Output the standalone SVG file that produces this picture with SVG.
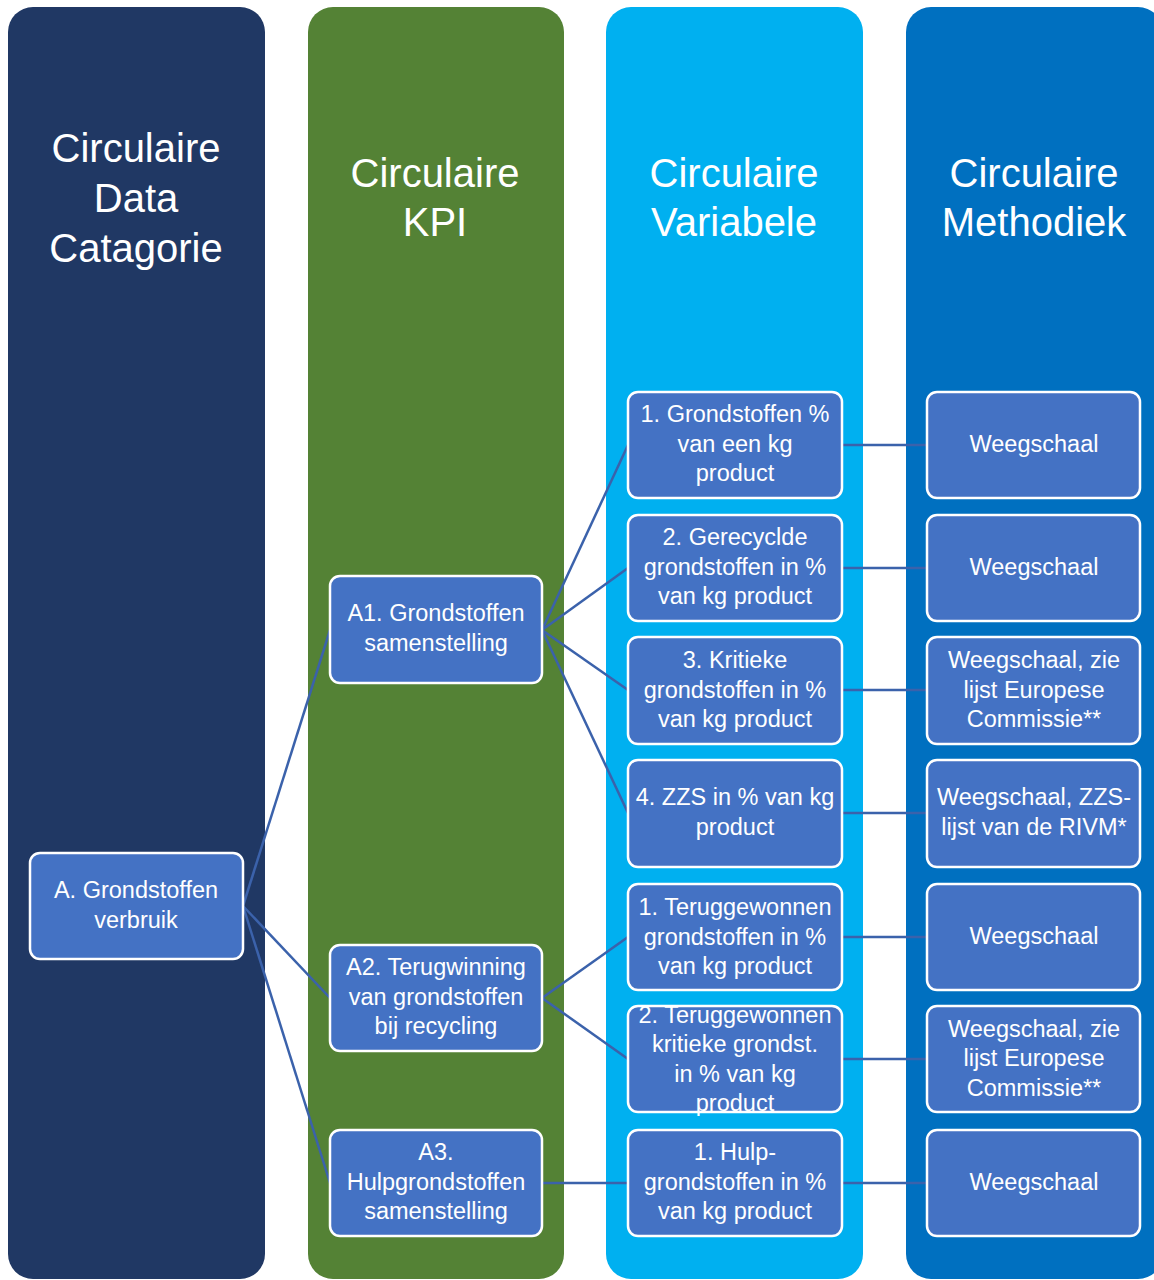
<svg xmlns="http://www.w3.org/2000/svg" width="1154" height="1280" viewBox="0 0 1154 1280">
<style>
.col{stroke:none}
.hd{font-family:"Liberation Sans",Arial,sans-serif;font-size:40px;fill:#fff;text-anchor:middle}
.nd rect{fill:#4472C4;stroke:#fff;stroke-width:2.5}
.nd text{font-family:"Liberation Sans",Arial,sans-serif;font-size:23.5px;fill:#fff;text-anchor:middle}
#connectors line{stroke:#3B62AB;stroke-width:2.5}
</style>
<rect width="1154" height="1280" fill="#fff"/>
<g id="columns">
<g id="col1"><rect class="col" x="8" y="7" width="257" height="1272" rx="25" fill="#203864"/>
<text class="hd" x="136" y="162">Circulaire</text><text class="hd" x="136" y="212">Data</text><text class="hd" x="136" y="262">Catagorie</text></g>
<g id="col2"><rect class="col" x="308" y="7" width="256" height="1272" rx="25" fill="#548235"/>
<text class="hd" x="435" y="187">Circulaire</text><text class="hd" x="435" y="236">KPI</text></g>
<g id="col3"><rect class="col" x="606" y="7" width="257" height="1272" rx="25" fill="#00B0F0"/>
<text class="hd" x="734" y="187">Circulaire</text><text class="hd" x="734" y="236">Variabele</text></g>
<g id="col4"><rect class="col" x="906" y="7" width="257" height="1272" rx="25" fill="#0070C0"/>
<text class="hd" x="1034" y="187">Circulaire</text><text class="hd" x="1034" y="236">Methodiek</text></g>
</g>
<g id="connectors">
<line x1="243" y1="906" x2="330" y2="630"/>
<line x1="243" y1="906" x2="330" y2="998"/>
<line x1="243" y1="906" x2="330" y2="1183"/>
<line x1="542" y1="630" x2="628" y2="445"/>
<line x1="542" y1="630" x2="628" y2="568"/>
<line x1="542" y1="630" x2="628" y2="690"/>
<line x1="542" y1="630" x2="628" y2="813"/>
<line x1="542" y1="998" x2="628" y2="937"/>
<line x1="542" y1="998" x2="628" y2="1059"/>
<line x1="542" y1="1183" x2="628" y2="1183"/>
<line x1="842" y1="445" x2="927" y2="445"/>
<line x1="842" y1="568" x2="927" y2="568"/>
<line x1="842" y1="690" x2="927" y2="690"/>
<line x1="842" y1="813" x2="927" y2="813"/>
<line x1="842" y1="937" x2="927" y2="937"/>
<line x1="842" y1="1059" x2="927" y2="1059"/>
<line x1="842" y1="1183" x2="927" y2="1183"/>
</g>
<g id="nodeA" class="nd"><rect x="30" y="853" width="213" height="106" rx="10"/>
<text x="136" y="898">A. Grondstoffen</text><text x="136" y="928">verbruik</text></g>
<g id="nodeA1" class="nd"><rect x="330" y="576" width="212" height="107" rx="10"/>
<text x="436" y="621">A1. Grondstoffen</text><text x="436" y="651">samenstelling</text></g>
<g id="nodeA2" class="nd"><rect x="330" y="945" width="212" height="106" rx="10"/>
<text x="436" y="975">A2. Terugwinning</text><text x="436" y="1005">van grondstoffen</text><text x="436" y="1034">bij recycling</text></g>
<g id="nodeA3" class="nd"><rect x="330" y="1130" width="212" height="106" rx="10"/>
<text x="436" y="1160">A3.</text><text x="436" y="1190">Hulpgrondstoffen</text><text x="436" y="1219">samenstelling</text></g>
<g id="nodeV1" class="nd"><rect x="628" y="392" width="214" height="106" rx="10"/>
<text x="735" y="422">1. Grondstoffen %</text><text x="735" y="452">van een kg</text><text x="735" y="481">product</text></g>
<g id="nodeV2" class="nd"><rect x="628" y="515" width="214" height="106" rx="10"/>
<text x="735" y="545">2. Gerecyclde</text><text x="735" y="575">grondstoffen in %</text><text x="735" y="604">van kg product</text></g>
<g id="nodeV3" class="nd"><rect x="628" y="637" width="214" height="107" rx="10"/>
<text x="735" y="668">3. Kritieke</text><text x="735" y="698">grondstoffen in %</text><text x="735" y="727">van kg product</text></g>
<g id="nodeV4" class="nd"><rect x="628" y="760" width="214" height="107" rx="10"/>
<text x="735" y="805">4. ZZS in % van kg</text><text x="735" y="835">product</text></g>
<g id="nodeV5" class="nd"><rect x="628" y="884" width="214" height="106" rx="10"/>
<text x="735" y="915">1. Teruggewonnen</text><text x="735" y="945">grondstoffen in %</text><text x="735" y="974">van kg product</text></g>
<g id="nodeV6" class="nd"><rect x="628" y="1006" width="214" height="106" rx="10"/>
<text x="735" y="1023">2. Teruggewonnen</text><text x="735" y="1052">kritieke grondst.</text><text x="735" y="1082">in % van kg</text><text x="735" y="1111">product</text></g>
<g id="nodeV7" class="nd"><rect x="628" y="1130" width="214" height="106" rx="10"/>
<text x="735" y="1160">1. Hulp-</text><text x="735" y="1190">grondstoffen in %</text><text x="735" y="1219">van kg product</text></g>
<g id="nodeM1" class="nd"><rect x="927" y="392" width="213" height="106" rx="10"/>
<text x="1034" y="452">Weegschaal</text></g>
<g id="nodeM2" class="nd"><rect x="927" y="515" width="213" height="106" rx="10"/>
<text x="1034" y="575">Weegschaal</text></g>
<g id="nodeM3" class="nd"><rect x="927" y="637" width="213" height="107" rx="10"/>
<text x="1034" y="668">Weegschaal, zie</text><text x="1034" y="698">lijst Europese</text><text x="1034" y="727">Commissie**</text></g>
<g id="nodeM4" class="nd"><rect x="927" y="760" width="213" height="107" rx="10"/>
<text x="1034" y="805">Weegschaal, ZZS-</text><text x="1034" y="835">lijst van de RIVM*</text></g>
<g id="nodeM5" class="nd"><rect x="927" y="884" width="213" height="106" rx="10"/>
<text x="1034" y="944">Weegschaal</text></g>
<g id="nodeM6" class="nd"><rect x="927" y="1006" width="213" height="106" rx="10"/>
<text x="1034" y="1037">Weegschaal, zie</text><text x="1034" y="1066">lijst Europese</text><text x="1034" y="1096">Commissie**</text></g>
<g id="nodeM7" class="nd"><rect x="927" y="1130" width="213" height="106" rx="10"/>
<text x="1034" y="1190">Weegschaal</text></g>
</svg>
